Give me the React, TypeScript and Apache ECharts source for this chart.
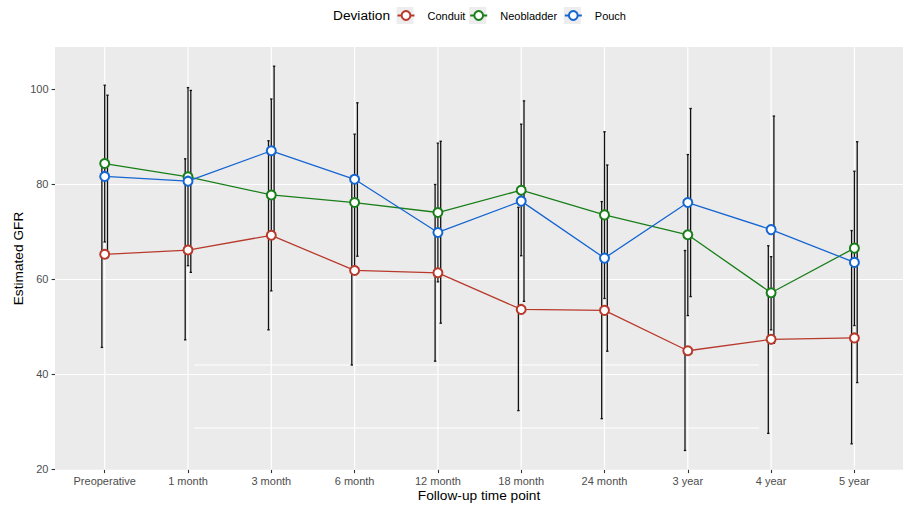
import React, { useEffect, useRef } from 'react';
import * as echarts from 'echarts';

const categories = ['Preoperative', '1 month', '3 month', '6 month', '12 month', '18 month', '24 month', '3 year', '4 year', '5 year'];
const seriesNames = ['Conduit', 'Neobladder', 'Pouch'];
const yTicks = [20, 40, 60, 80, 100];

const conduitMean = [65.2, 66.1, 69.2, 61.8, 61.3, 53.6, 53.4, 44.9, 47.3, 47.6];
const conduitLow = [45.6, 47.2, 49.3, 41.9, 42.7, 32.3, 30.6, 23.9, 27.5, 25.3];
const conduitHigh = [84.8, 85.3, 89.1, 81.7, 79.9, 75.1, 76.3, 66.0, 67.0, 70.2];

const neobladderMean = [84.3, 81.5, 77.7, 76.1, 74.0, 78.7, 73.5, 69.3, 57.1, 66.5];
const neobladderLow = [67.8, 62.8, 57.5, 61.7, 59.4, 64.9, 55.9, 52.3, 49.3, 50.2];
const neobladderHigh = [100.8, 100.3, 97.9, 90.5, 88.6, 92.6, 91.0, 86.2, 64.7, 82.7];

const pouchMean = [81.6, 80.6, 87.0, 81.0, 69.8, 76.4, 64.4, 76.1, 70.4, 63.5];
const pouchLow = [64.5, 61.4, 69.2, 64.8, 50.7, 55.3, 44.8, 56.3, 46.5, 38.2];
const pouchHigh = [98.7, 99.7, 104.8, 97.1, 89.0, 97.5, 84.0, 95.9, 94.3, 88.9];

const colors = ['#B83A2D', '#1A7F1A', '#1566D1'];
const FONT = '"Liberation Sans", Arial, Helvetica, sans-serif';

export default function App() {
  const ref = useRef<HTMLDivElement>(null);
  useEffect(() => {
    document.body.style.margin = '0';
    const chart = echarts.init(ref.current!, null, { renderer: 'svg' });

    const means = [conduitMean, neobladderMean, pouchMean];
    const lows = [conduitLow, neobladderLow, pouchLow];
    const highs = [conduitHigh, neobladderHigh, pouchHigh];
    const allLow = Math.min(...lows.flat());
    const allHigh = Math.max(...highs.flat());
    const pad = (allHigh - allLow) * 0.05;
    const yMin = allLow - pad;
    const yMax = allHigh + pad;

    const dodge = [-2.8, 0, 2.8];
    const capHalf = 1.2;

    const errorSeries = seriesNames.map((name, s) => ({
      type: 'custom',
      name: name + ' error',
      xAxisIndex: 1,
      yAxisIndex: 1,
      z: 2,
      silent: true,
      data: lows[s].map((l, i) => [i, l, highs[s][i]]),
      encode: { x: 0, y: [1, 2] },
      renderItem: (params: any, api: any) => {
        const lo = api.coord([api.value(0), api.value(1)]);
        const hi = api.coord([api.value(0), api.value(2)]);
        const x = lo[0] + dodge[s];
        const style = { stroke: '#111111', lineWidth: 1.3 };
        return {
          type: 'group',
          children: [
            { type: 'line', shape: { x1: x, y1: hi[1], x2: x, y2: lo[1] }, style },
            { type: 'line', shape: { x1: x - capHalf, y1: hi[1], x2: x + capHalf, y2: hi[1] }, style },
            { type: 'line', shape: { x1: x - capHalf, y1: lo[1], x2: x + capHalf, y2: lo[1] }, style },
          ],
        };
      },
    }));

    const vGridSeries = {
      type: 'custom',
      name: 'vgrid',
      xAxisIndex: 1,
      yAxisIndex: 1,
      z: 1,
      silent: true,
      data: categories.map((_, i) => [i, yMin]),
      encode: { x: 0, y: 1 },
      renderItem: (params: any, api: any) => {
        const p = api.coord([api.value(0), yMin]);
        const cs = params.coordSys;
        return {
          type: 'line',
          shape: { x1: p[0], y1: cs.y, x2: p[0], y2: cs.y + cs.height },
          style: { stroke: '#FFFFFF', lineWidth: 1.2 },
        };
      },
    };

    const lineSeries = seriesNames.map((name, s) => ({
      type: 'line',
      name,
      xAxisIndex: 1,
      yAxisIndex: 1,
      z: 3,
      data: means[s],
      color: colors[s],
      symbol: 'emptyCircle',
      symbolSize: 9,
      lineStyle: { width: 1.3, color: colors[s] },
      itemStyle: { color: colors[s], borderWidth: 1.2 },
      emphasis: { disabled: true },
    }));

    const keyCenters = [405, 477.7, 572.3];
    const keyW = 17;

    const legends = seriesNames.map((name, s) => ({
      data: [name],
      left: keyCenters[s] - keyW / 2,
      top: 10,
      z: 5,
      itemWidth: keyW,
      itemHeight: 11,
      padding: 0,
      itemGap: 0,
      selectedMode: false,
      textStyle: { fontSize: 11, color: '#000000', fontFamily: FONT, padding: [0, 0, 0, 8] },
    }));

    const option: any = {
      animation: false,
      backgroundColor: '#FFFFFF',
      textStyle: { fontFamily: FONT },
      legend: legends,
      grid: [
        { left: 55, right: 0, top: 47, bottom: 37.3, show: true, backgroundColor: '#EBEBEB', borderWidth: 0 },
        { left: 63.05, right: 6.95, top: 47, bottom: 37.3, show: false },
      ],
      xAxis: [
        { type: 'value', gridIndex: 0, min: 0, max: 1, show: false },
        {
          type: 'category',
          gridIndex: 1,
          data: categories,
          boundaryGap: true,
          axisLine: { show: false },
          axisTick: { show: true, alignWithLabel: true, length: 3.4, lineStyle: { color: '#333333', width: 1.1 } },
          axisLabel: { interval: 0, fontSize: 11, color: '#4D4D4D', margin: 6, fontFamily: FONT },
          splitLine: { show: false },
        },
      ],
      yAxis: [
        {
          type: 'value',
          gridIndex: 0,
          min: yMin,
          max: yMax,
          axisLine: { show: false },
          axisTick: { show: true, length: 3.4, customValues: yTicks, lineStyle: { color: '#333333', width: 1.1 } },
          axisLabel: {
            fontSize: 11,
            color: '#4D4D4D',
            margin: 6.5,
            fontFamily: FONT,
            customValues: yTicks,
            formatter: (v: number) => (Math.abs(v % 20) < 1e-6 ? String(v) : ''),
          },
          splitLine: { show: true, showMinLine: false, showMaxLine: false, lineStyle: { color: '#FFFFFF', width: 1.2 } },
        },
        { type: 'value', gridIndex: 1, min: yMin, max: yMax, show: false, splitLine: { show: false } },
      ],
      graphic: [
        ...keyCenters.map((c) => ({
          type: 'rect',
          z: 3,
          silent: true,
          shape: { x: c - keyW / 2, y: 7, width: keyW, height: 17 },
          style: { fill: '#EDEDED' },
        })),
        {
          type: 'text',
          x: 333,
          y: 15.5,
          style: { text: 'Deviation', fontSize: 13.7, fill: '#000000', fontFamily: FONT, align: 'left', verticalAlign: 'middle' },
        },
        {
          type: 'text',
          x: 479,
          y: 495,
          style: { text: 'Follow-up time point', fontSize: 13.7, fill: '#000000', fontFamily: FONT, align: 'center', verticalAlign: 'middle' },
        },
        {
          type: 'text',
          x: 18,
          y: 258.5,
          rotation: Math.PI / 2,
          style: { text: 'Estimated GFR', fontSize: 13.7, fill: '#000000', fontFamily: FONT, align: 'center', verticalAlign: 'middle' },
        },
        { type: 'line', z: 1, silent: true, shape: { x1: 194, y1: 365, x2: 759, y2: 365 }, style: { stroke: '#FFFFFF', lineWidth: 1 } },
        { type: 'line', z: 1, silent: true, shape: { x1: 194, y1: 428, x2: 759, y2: 428 }, style: { stroke: '#FFFFFF', lineWidth: 1 } },
      ],
      series: [vGridSeries, ...errorSeries, ...lineSeries],
    };

    chart.setOption(option);
    return () => chart.dispose();
  }, []);
  return <div ref={ref} style={{ width: 903, height: 507 }} />;
}
